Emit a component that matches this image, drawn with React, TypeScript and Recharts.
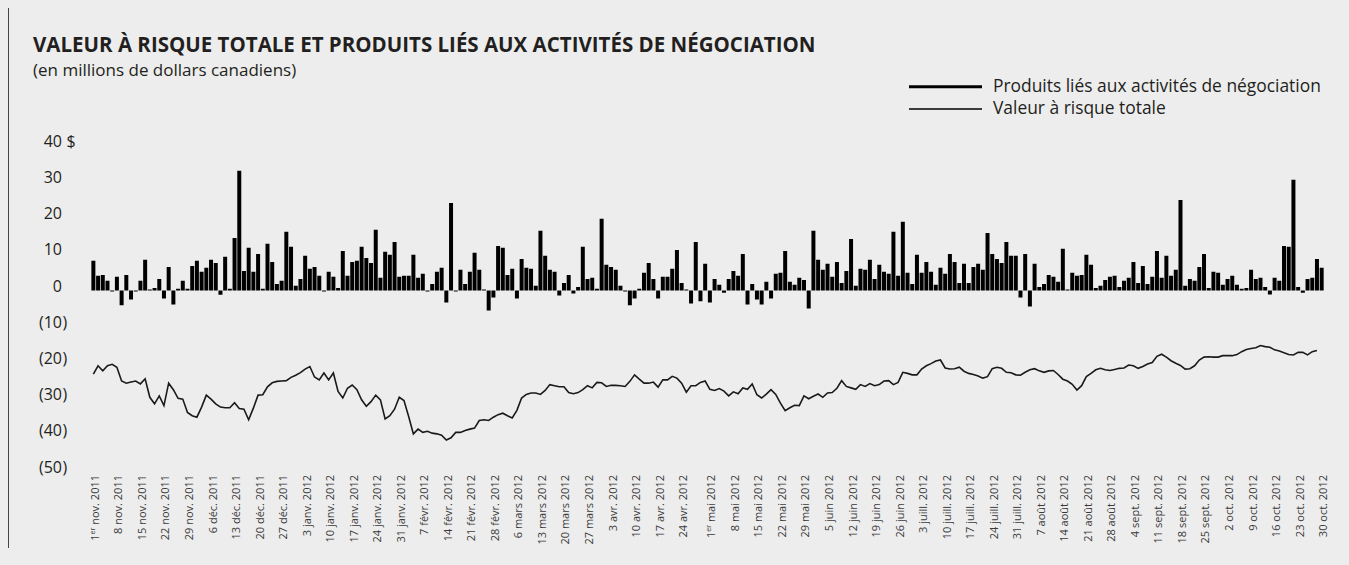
import React from 'react';
import { ComposedChart, Bar, Line, XAxis, YAxis } from 'recharts';

// weekly axis labels (every Tuesday)
const weekLabels = [
  '1er nov. 2011', '8 nov. 2011', '15 nov. 2011', '22 nov. 2011', '29 nov. 2011',
  '6 déc. 2011', '13 déc. 2011', '20 déc. 2011', '27 déc. 2011',
  '3 janv. 2012', '10 janv. 2012', '17 janv. 2012', '24 janv. 2012', '31 janv. 2012',
  '7 févr. 2012', '14 févr. 2012', '21 févr. 2012', '28 févr. 2012',
  '6 mars 2012', '13 mars 2012', '20 mars 2012', '27 mars 2012',
  '3 avr. 2012', '10 avr. 2012', '17 avr. 2012', '24 avr. 2012',
  '1er mai 2012', '8 mai 2012', '15 mai 2012', '22 mai 2012', '29 mai 2012',
  '5 juin 2012', '12 juin 2012', '19 juin 2012', '26 juin 2012',
  '3 juill. 2012', '10 juill. 2012', '17 juill. 2012', '24 juill. 2012', '31 juill. 2012',
  '7 août 2012', '14 août 2012', '21 août 2012', '28 août 2012',
  '4 sept. 2012', '11 sept. 2012', '18 sept. 2012', '25 sept. 2012',
  '2 oct. 2012', '9 oct. 2012', '16 oct. 2012', '23 oct. 2012', '30 oct. 2012',
];

// daily trading revenue
const gains = [
  8.2, 4.1, 4.3, 2.7, -0.3, 3.8, -4.1, 4.3, -2.5, -0.3, 2.7, 8.5, 0.3, 0.7, 3.2, -2.2, 6.5, -3.9, 0.5, 2.7,
  0.5, 6.8, 8.2, 5.2, 6.3, 8.5, 7.6, -1.2, 9.3, 0.5, 14.5, 33.1, 5.4, 11.8, 5.2, 10.1, 0.5, 12.9, 7.9, 1.8,
  2.7, 16.2, 12.1,
  1.3, 3.2, 9.6, 6.0, 6.5, 4.1, -0.3, 5.2, 3.8, 0.7, 10.9, 4.1, 7.9, 8.2, 12.1, 9.0, 7.6, 16.8, 3.5, 10.7,
  9.9, 13.4, 3.8, 4.1, 4.1, 9.9, 3.5, 4.6, -0.3, 1.8, 5.2, 6.3, -3.3, 24.2, -0.3, 5.7, 1.8, 5.2, 10.4, 5.7,
  0.3, -5.5, -1.9, 12.3,
  11.8, 4.3, 6.0, -2.2, 8.7, 6.3, 6.0, 1.3, 16.5, 9.6, 5.7, 5.2, -1.4, 2.1, 4.3, -0.8, 1.0, 12.1, 3.2, 3.5,
  0.5, 19.8, 7.1, 6.5, 5.7, 1.3, -0.3, -4.1, -2.2, 0.5, 4.9, 7.6, 3.2, -2.2, 3.8, 3.8, 6.0, 11.2, 2.1, 0.3,
  -3.6, 13.4, -3.0,
  7.4, -3.3, 3.2, 1.6, -0.6, 3.2, 5.4, 4.1, 10.1, -3.9, 1.8, -2.5, -3.9, 2.4, -2.2, 4.6, 4.9, 10.9, 2.4, 1.6,
  3.5, 2.9, -5.0, 16.5, 8.5, 5.7, 7.4, 3.8, 7.9, 2.1, 5.4, 14.2, 1.3, 6.0, 5.7, 8.5, 3.2, 7.1, 5.2, 4.6,
  16.2, 4.1, 19.0, 4.9,
  1.8, 9.9, 4.9, 7.9, 5.2, 1.6, 6.3, 4.6, 10.1, 7.9, 2.1, 7.4, 2.1, 6.5, 7.4, 5.7, 15.9, 10.1, 8.7, 7.6,
  13.4, 9.6, 9.6, -1.9, 10.1, -4.4, 7.4, 1.0, 1.8, 4.3, 3.8, 2.4, 11.5, 0.3, 4.9, 4.1, 4.3, 9.9, 7.1, 0.7,
  1.3, 2.9, 3.8, 4.1,
  1.0, 2.7, 3.5, 7.9, 2.1, 6.8, 1.8, 3.8, 10.9, 3.5, 9.6, 4.1, 5.7, 25.0, 1.3, 3.2, 2.7, 6.5, 10.1, 0.7,
  5.2, 4.9, 1.6, 3.2, 4.1, 1.6, 0.5, 0.7, 5.7, 3.2, 3.5, 1.0, -1.1, 3.5, 2.7, 12.3, 12.1, 30.6, 1.0, -0.6,
  3.2, 3.5, 8.7, 6.3,
];

// total value at risk (shown negative)
const varTotal = [
  -23.1, -20.8, -22.2, -20.8, -20.4, -21.2, -25.0, -25.6, -25.3, -25.0, -25.8, -24.4, -29.5, -31.3, -29.1,
  -31.8, -25.6, -27.4, -29.8, -30.0, -33.7, -34.6, -35.0, -32.2, -28.9, -30.0, -31.3, -32.2, -32.4, -32.4,
  -31.0, -32.6, -32.8, -35.7, -32.5, -28.9, -28.8, -26.6, -25.5, -25.1, -25.0, -24.9, -24.0,
  -23.4, -22.7, -21.7, -21.0, -23.9, -24.7, -22.8, -24.7, -22.8, -27.9, -29.7, -27.0, -26.1, -27.4, -30.2,
  -32.0, -30.7, -28.9, -30.2, -35.5, -34.6, -32.8, -29.5, -30.4, -34.8, -39.6, -38.3, -39.2, -38.9, -39.4,
  -39.6, -40.0, -41.3, -40.7, -39.2, -39.2, -38.7, -38.3, -38.0, -35.9, -35.7, -35.9, -35.0, -34.3,
  -33.9, -34.6, -35.2, -33.1, -29.7, -28.7, -28.3, -28.3, -28.7, -27.6, -26.0, -26.3, -26.6, -26.6, -28.2,
  -28.5, -28.2, -27.4, -26.3, -26.9, -25.4, -25.5, -26.5, -26.2, -26.2, -26.3, -26.5, -25.1, -23.3, -24.5,
  -25.6, -25.6, -25.3, -26.7, -24.7, -24.7, -23.7, -24.2, -25.6, -28.1, -26.3, -26.3,
  -25.4, -25.0, -27.3, -27.6, -27.1, -27.8, -29.1, -28.0, -28.5, -26.9, -27.3, -25.8, -28.8, -29.7, -28.6,
  -27.4, -28.7, -31.1, -33.2, -32.4, -31.7, -31.8, -29.1, -29.9, -29.2, -28.6, -29.5, -28.3, -28.2, -27.0,
  -24.9, -26.5, -26.9, -27.3, -26.0, -26.5, -25.7, -26.3, -26.0, -25.0, -24.9, -26.0, -25.4, -22.6, -22.9,
  -23.3, -23.3, -21.7, -20.8, -20.2, -19.5, -19.2, -21.4, -21.7, -21.6, -21.2, -22.3, -22.9, -23.2, -23.6,
  -24.2, -23.8, -21.6, -21.2, -21.5, -22.6, -22.7, -23.3, -23.4, -22.6, -21.9, -21.6, -22.2, -22.6, -22.2,
  -22.1, -23.2, -24.5, -25.0, -25.9, -27.5, -26.3, -23.8, -22.9, -21.9, -21.5, -21.9,
  -22.1, -21.8, -21.5, -21.4, -20.6, -20.8, -21.5, -21.0, -20.3, -19.9, -18.2, -17.6, -18.4, -19.4, -20.1,
  -20.7, -21.7, -21.6, -20.8, -19.2, -18.4, -18.3, -18.4, -18.4, -18.0, -18.0, -18.0, -17.7, -16.9, -16.3,
  -16.0, -15.8, -15.2, -15.5, -15.7, -16.4, -16.7, -17.2, -17.7, -17.8, -17.1, -17.1, -17.8, -16.9, -16.6,
];

const yTicks = [40, 30, 20, 10, 0, -10, -20, -30, -40, -50];

const data = gains.map((g, i) => ({
  i,
  gain: g,
  var: i < varTotal.length ? varTotal[i] : null,
}));

// weekly labels are spread evenly over the daily bars
const tickIdx = weekLabels.map((_, k) =>
  Math.round((k * (gains.length - 1)) / (weekLabels.length - 1))
);
const labelAt: Record<number, string> = {};
tickIdx.forEach((t, k) => {
  labelAt[t] = weekLabels[k];
});

const FONT = '"Open Sans", "Noto Sans", sans-serif';
const INK = '#231f20';

const XTick = ({ x, payload }: any) => {
  const label = labelAt[payload.value] ?? '';
  const sup = label.startsWith('1er ');
  return (
    <g transform={`translate(${x + 5.5},467)`}>
      <text transform="rotate(-90)" textAnchor="end" fontSize={11} fill="#3a3a3a" fontFamily={FONT}>
        {sup ? (
          <>
            <tspan>1</tspan>
            <tspan dy={-4} fontSize={7}>er</tspan>
            <tspan dy={4}>{label.slice(3)}</tspan>
          </>
        ) : (
          label
        )}
      </text>
    </g>
  );
};

const YTick = ({ y, payload }: any) => {
  const v = payload.value;
  return (
    <g fontFamily={FONT} fontSize={16} fill={INK}>
      <text x={54} y={y + 1} textAnchor="end">{v < 0 ? `(${-v}` : `${v}`}</text>
      {v < 0 && <text x={54.5} y={y + 1}>)</text>}
      {v === 40 && <text x={58.5} y={y + 1}>$</text>}
    </g>
  );
};

const App: React.FC = () => {
  return (
    <>
      <div style={{ position: 'fixed', inset: 0, background: '#ededed', zIndex: -1 }} />
      <div style={{ position: 'relative', width: 1341, height: 540, background: '#ededed' }}>
        <ComposedChart
          width={1341}
          height={540}
          data={data}
          margin={{ top: 137.7, right: 25, bottom: 6.5, left: 23 }}
          barCategoryGap="8%"
        >
          <XAxis
            dataKey="i"
            type="category"
            ticks={tickIdx}
            interval={0}
            tickLine={false}
            axisLine={false}
            height={70}
            tick={(p: any) => <XTick {...p} />}
          />
          <YAxis
            type="number"
            domain={[-50, 40]}
            ticks={yTicks}
            interval={0}
            tickLine={false}
            axisLine={false}
            width={60}
            allowDataOverflow
            tick={(p: any) => <YTick {...p} />}
          />
          <Bar dataKey="gain" fill="#000" isAnimationActive={false} />
          <Line
            dataKey="var"
            type="linear"
            stroke="#1a1a1a"
            strokeWidth={1.6}
            dot={false}
            isAnimationActive={false}
          />
        </ComposedChart>

        <svg
          width={1341}
          height={540}
          style={{ position: 'absolute', left: 0, top: 0, pointerEvents: 'none' }}
          fontFamily={FONT}
          fill={INK}
        >
          <text x={25} y={43.5} fontSize={20.5} fontWeight={700}>
            VALEUR À RISQUE TOTALE ET PRODUITS LIÉS AUX ACTIVITÉS DE NÉGOCIATION
          </text>
          <text x={25} y={68} fontSize={17}>
            (en millions de dollars canadiens)
          </text>
          <line x1={901} x2={974} y1={78.7} y2={78.7} stroke="#000" strokeWidth={3} />
          <text x={985} y={83.5} fontSize={17.4}>
            Produits liés aux activités de négociation
          </text>
          <line x1={901} x2={974} y1={101} y2={101} stroke="#000" strokeWidth={1.3} />
          <text x={985} y={105.8} fontSize={17.4}>
            Valeur à risque totale
          </text>
        </svg>

        <div
          style={{
            position: 'absolute',
            left: 0,
            top: 0,
            width: 1341,
            height: 541,
            boxSizing: 'border-box',
            borderLeft: '1px solid #444',
            borderBottom: '1px solid #444',
            pointerEvents: 'none',
          }}
        />
      </div>
    </>
  );
};

export default App;
